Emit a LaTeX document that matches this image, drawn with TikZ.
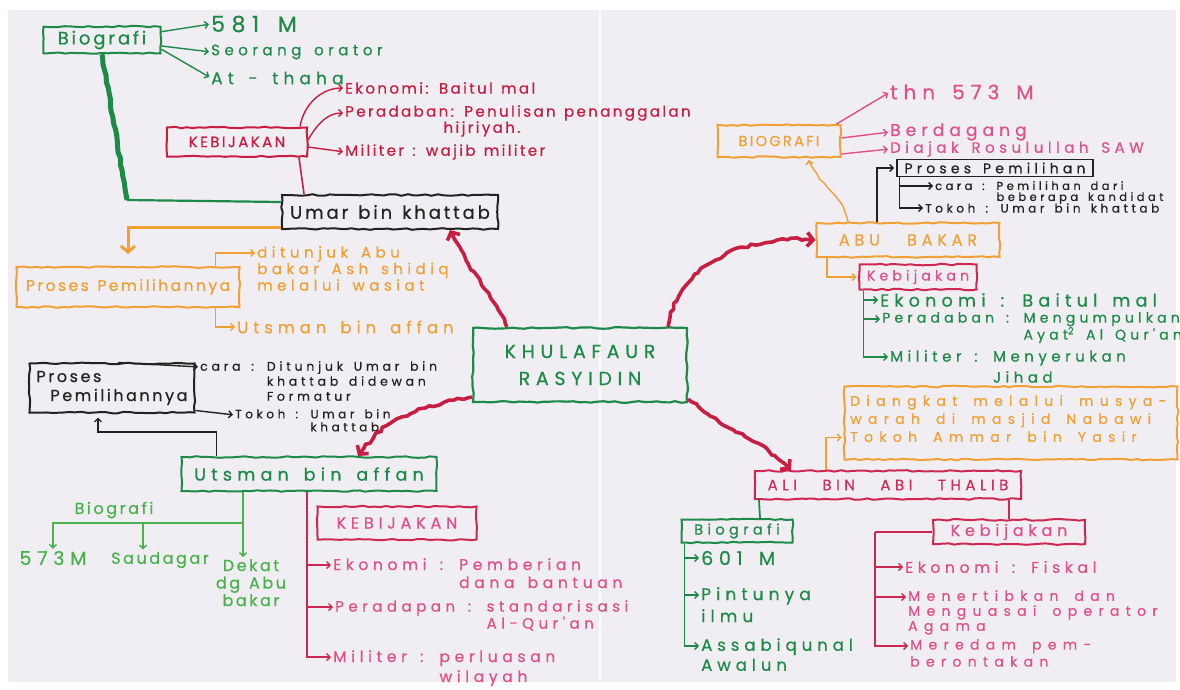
\documentclass[tikz,border=0pt]{standalone}
\usepackage{fontspec}
\setmainfont{Poppins}[LetterSpace=16, WordSpace=1.3, FakeBold=0.6]
\newfontfamily\wide{Poppins}[LetterSpace=30, WordSpace=1.5, FakeBold=0.6]
\newfontfamily\xwide{Poppins}[LetterSpace=45, WordSpace=1.6, FakeBold=0.6]
\usetikzlibrary{arrows.meta,decorations.pathmorphing}
\definecolor{grn}{HTML}{1E8A4A}
\definecolor{lgrn}{HTML}{49B24E}
\definecolor{crim}{HTML}{C81E44}
\definecolor{pnk}{HTML}{E0508A}
\definecolor{orng}{HTML}{F0A035}
\definecolor{ink}{HTML}{222222}
\definecolor{paper}{HTML}{F1EEF3}

\begin{document}
\begin{tikzpicture}[x=1pt,y=-1pt]
\pgfmathsetseed{7}
\tikzstyle{every node}+=[inner sep=0pt, font=\fontsize{15}{17}\selectfont]
\tikzstyle{hand}=[decorate, decoration={random steps, segment length=6pt, amplitude=0.8pt, pre length=4pt, post length=4pt}]
\tikzstyle{bx}=[draw, hand, line width=2pt, inner sep=4pt, align=center]
\tikzstyle{grnbox}=[bx, grn]
\tikzstyle{redbox}=[bx, crim]
\tikzstyle{pnkbox}=[bx, draw=crim!80!pnk, text=pnk]
\tikzstyle{orgbox}=[bx, orng]
\tikzstyle{blkbox}=[bx, ink]
\tikzstyle{gtxt}=[text=grn]
\tikzstyle{lgtxt}=[text=lgrn]
\tikzstyle{rtxt}=[text=crim]
\tikzstyle{ptxt}=[text=pnk]
\tikzstyle{otxt}=[text=orng]
\tikzstyle{ktxt}=[text=ink]
\tikzstyle{tip}=[line width=1.4pt, -{Straight Barb[length=3.5pt,width=7pt]}, shorten >=2pt]
\tikzstyle{redlink}=[crim, line width=3.6pt, hand, decoration={amplitude=1.6pt, segment length=5pt, post length=10pt}, -{Straight Barb[length=6pt,width=14pt]}]
\fill[white] (0,0) rectangle (1180,690);
\fill[paper] (8,10) rectangle (1176,682);
\draw[white!80!paper, line width=2pt] (600,10) -- (600,682);
\useasboundingbox (0,0) rectangle (1180,690);

\node[grnbox, minimum width=214, minimum height=74, line width=2.2pt, font=\wide\fontsize{19}{27}\selectfont] (khul) at (580,365) {KHULAFAUR\\RASYIDIN};
\node[blkbox, minimum width=216, minimum height=34, font=\fontsize{18}{20}\selectfont] (umar) at (390,212) {Umar bin khattab};
\node[orgbox, minimum width=183, minimum height=34, font=\wide\fontsize{16}{18}\selectfont] (abu) at (908,240) {ABU \ BAKAR};
\node[grnbox, minimum width=255, minimum height=34, font=\wide\fontsize{17.5}{20}\selectfont] (utsM) at (309,474) {Utsman bin affan};
\node[pnkbox, minimum width=266, minimum height=28, text=crim!70!pnk, font=\wide\fontsize{15}{17}\selectfont] (ali) at (888,485) {ALI \ BIN \ ABI \ THALIB};

\node[grnbox, minimum width=117, minimum height=26, font=\fontsize{18}{20}\selectfont] (bioU) at (102,40) {Biografi};
\node[gtxt, anchor=west, font=\wide\fontsize{22}{24}\selectfont] (u581) at (211,24) {581 M};
\node[gtxt, anchor=west, font=\wide\fontsize{15}{17}\selectfont] (uOra) at (211,52) {Seorang orator};
\node[gtxt, anchor=west, font=\wide\fontsize{17}{19}\selectfont] (uAth) at (211,78) {At - thaha};
\draw[tip, grn] ([yshift=-6pt]bioU.north east) -- (u581.west);
\draw[tip, grn] ([yshift=-6pt]bioU.east) -- (uOra.west);
\draw[tip, grn] ([yshift=5pt]bioU.south east) -- (uAth.west);
\coordinate (bend1) at (127,200);
\draw[grn, line width=5pt, hand] (bioU.south) -- (bend1);
\draw[grn, line width=2.2pt] (bend1) -- ([yshift=-8pt]umar.north west);

\node[redbox, minimum width=140, minimum height=29, font=\fontsize{15}{17}\selectfont] (kebU) at (237,142) {KEBIJAKAN};
\node[rtxt, anchor=west] (ekoU) at (345,88) {Ekonomi: Baitul mal};
\node[rtxt, anchor=west, font=\fontsize{15}{17}\selectfont] (perU) at (345,113) {Peradaban: Penulisan penanggalan};
\node[rtxt] (hijU) at (482,129) {hijriyah.};
\node[rtxt, anchor=west] (milU) at (345,152) {Militer : wajib militer};
\draw[tip, crim] ([xshift=-8pt]kebU.north east) to[out=80,in=180] (ekoU.west);
\draw[tip, crim] ([yshift=2pt]kebU.east) to[out=60,in=180] (perU.west);
\draw[tip, crim] ([yshift=-5pt]kebU.east) -- (milU.west);
\draw[crim, line width=1.6pt] ([xshift=-9pt]kebU.south east) -- ([xshift=23pt]umar.north west);

\node[orgbox, minimum width=223, minimum height=40, text=orng, font=\fontsize{15.5}{17}\selectfont] (procU) at (128,287) {Proses Pemilihannya};
\node[otxt, anchor=north west, align=left, font=\wide\fontsize{15}{16.5}\selectfont] (ditU) at (257,246) {ditunjuk Abu\\bakar Ash shidiq\\melalui wasiat};
\node[otxt, anchor=west, font=\wide\fontsize{16.5}{19}\selectfont] (utsU) at (237,327) {Utsman bin affan};
\draw[orng, line width=3pt, shorten >=12pt, -{Straight Barb[length=6pt,width=14pt]}] ([yshift=3pt]umar.south west) -| (procU.north);
\draw[tip, orng] ([xshift=-25pt]procU.north east) |- ([yshift=-7pt]ditU.north west);
\draw[tip, orng] ([xshift=-25pt]procU.south east) |- (utsU.west);

\node[blkbox, align=left, minimum width=165, minimum height=49, font=\fontsize{16}{19}\selectfont] (procK) at (112,388) {Proses\\\hspace*{14pt}Pemilihannya};
\node[ktxt, anchor=north west, align=left, font=\wide\fontsize{12.5}{15}\selectfont] (caraK) at (200,361) {cara : Ditunjuk Umar bin\\\phantom{cara : }khattab didewan\\\phantom{cara : }Formatur};
\node[ktxt, anchor=north west, align=left, font=\wide\fontsize{12}{13}\selectfont] (tokK) at (235,409) {Tokoh : Umar bin\\\phantom{Tokoh : }khattab};
\draw[tip, ink] ([xshift=6pt]procK.north) -- ([yshift=-6pt]caraK.north west);
\draw[tip, ink] ([yshift=3pt]procK.south east) -- ([yshift=-6pt]tokK.north west);
\draw[tip, ink, shorten >=4pt] ([xshift=36pt]utsM.north west) -- ++(0,-24) -| ([xshift=-14pt]procK.south);

\coordinate (ubj) at (243,523);
\node[lgtxt, font=\fontsize{16}{18}\selectfont] (ubio) at (114,510) {Biografi};
\node[lgtxt, font=\wide\fontsize{19}{21}\selectfont] (u573) at (53,558) {573M};
\node[lgtxt, font=\fontsize{16}{18}\selectfont] (usdg) at (160,560) {Saudagar};
\node[lgtxt, anchor=north, align=center, font=\fontsize{16}{17.5}\selectfont] (udkt) at (251,559) {Dekat\\dg Abu\\bakar};
\draw[tip, lgrn] ([xshift=-66pt]utsM.south) -- ([xshift=-66pt]utsM.south |- udkt.north);
\draw[tip, lgrn] (ubj) -| (u573.north);
\draw[tip, lgrn] ([xshift=-17pt]usdg.north |- ubj) -- ([xshift=-17pt]usdg.north);

\node[pnkbox, minimum width=159, minimum height=33, font=\wide\fontsize{16}{18}\selectfont] (kebM) at (397,523) {KEBIJAKAN};
\node[ptxt, anchor=north west, align=left, font=\wide\fontsize{15.5}{18}\selectfont] (ekoM) at (333,558) {Ekonomi : Pemberian\\\phantom{Ekonomi : }dana bantuan};
\node[ptxt, anchor=north west, align=left, font=\wide\fontsize{15}{17}\selectfont] (perM) at (335,600) {Peradapan : standarisasi\\\phantom{Peradapan : }Al-Qur'an};
\node[ptxt, anchor=north west, align=left, font=\wide\fontsize{15.5}{20}\selectfont] (milM) at (333,650) {Militer : perluasan\\\phantom{Militer : }wilayah};
\draw[tip, crim!80!pnk] ([xshift=-2pt]utsM.south) |- ([yshift=-7pt]ekoM.north west);
\draw[tip, crim!80!pnk] ([xshift=-2pt]utsM.south) |- ([yshift=-7pt]perM.north west);
\draw[tip, crim!80!pnk] ([xshift=-2pt]utsM.south) |- ([yshift=-7pt]milM.north west);

\draw[redlink] ([xshift=35pt]khul.north west) to[out=115,in=-65] ([xshift=60pt]umar.south);
\draw[redlink] ([xshift=-20pt]khul.north east) to[out=80,in=175] (abu.west);
\draw[redlink] ([yshift=6pt]khul.south west) to[out=190,in=55] ([xshift=49pt]utsM.north);
\draw[redlink] ([yshift=4pt]khul.south east) to[out=-40,in=135] ([xshift=37pt]ali.north west);

\node[orgbox, minimum width=123, minimum height=32, font=\fontsize{14.5}{16}\selectfont] (bioA) at (779,141) {BIOGRAFI};
\node[ptxt, anchor=west, font=\wide\fontsize{20}{22}\selectfont] (aThn) at (890,92) {thn 573 M};
\node[ptxt, anchor=west, font=\wide\fontsize{17}{19}\selectfont] (aDag) at (890,132) {Berdagang};
\node[ptxt, anchor=west, font=\wide\fontsize{15}{17}\selectfont] (aAjk) at (890,149) {Diajak Rosulullah SAW};
\draw[tip, pnk] ([xshift=-5pt]bioA.north east) -- (aThn.west);
\draw[tip, pnk] ([yshift=3pt]bioA.east) -- (aDag.west);
\draw[tip, pnk] ([yshift=4pt]bioA.south east) -- (aAjk.west);
\draw[tip, orng, hand] ([xshift=-60pt]abu.north) to[out=100,in=-70] ([xshift=29pt]bioA.south);

\node[draw=ink, line width=1.6pt, minimum width=196, minimum height=17, text=ink, font=\wide\fontsize{14}{16}\selectfont] (ppA) at (995,168) {Proses Pemilihan};
\node[ktxt, anchor=north west, align=left, font=\wide\fontsize{11.5}{11}\selectfont] (caraA) at (935,181) {cara : Pemilihan dari\\\phantom{cara : }beberapa kandidat};
\node[ktxt, anchor=west, font=\wide\fontsize{12}{14}\selectfont] (tokA) at (925,208) {Tokoh : Umar bin khattab};
\draw[tip, ink] ([xshift=-31pt]abu.north) |- (ppA.west);
\draw[tip, ink] ([xshift=3pt]ppA.south west) |- ([yshift=-5pt]caraA.north west);
\draw[tip, ink] ([xshift=3pt]ppA.south west) |- (tokA.west);

\node[pnkbox, minimum width=117, minimum height=25, font=\wide\fontsize{14}{16}\selectfont] (kebA) at (918,277) {Kebijakan};
\node[gtxt, anchor=west, font=\wide\fontsize{17.5}{20}\selectfont] (ekoA) at (880,300) {Ekonomi : Baitul mal};
\node[gtxt, anchor=north west, align=left, font=\wide\fontsize{14}{17}\selectfont] (perA) at (882,312) {Peradaban : Mengumpulkan\\\phantom{Peradaban : }Ayat\textsuperscript{2} Al Qur'an};
\node[gtxt, anchor=north west, align=left, font=\wide\fontsize{15}{21}\selectfont] (milA) at (890,350) {Militer : Menyerukan\\\phantom{Militer : }Jihad};
\draw[tip, orng] ([xshift=-81pt]abu.south) |- (kebA.west);
\draw[tip, grn] ([xshift=5pt]kebA.south west) |- (ekoA.west);
\draw[tip, grn] ([xshift=5pt]kebA.south west) |- ([yshift=-7pt]perA.north west);
\draw[tip, grn] ([xshift=5pt]kebA.south west) |- ([yshift=-7pt]milA.north west);

\node[orgbox, minimum width=333, minimum height=73, inner sep=0pt] (musA) at (1011,423) {};
\node[otxt, anchor=north west, align=left, font=\xwide\fontsize{14}{18}\selectfont] (musT) at (850,395) {Diangkat melalui musya-\\warah di masjid Nabawi\\Tokoh Ammar bin Yasir};
\draw[tip, orng] ([xshift=72pt]ali.north west) |- ([yshift=23pt]musA.south west);

\node[grnbox, minimum width=111, minimum height=23, font=\wide\fontsize{14.5}{16}\selectfont] (bioL) at (737,531) {Biografi};
\node[gtxt, anchor=west, font=\wide\fontsize{19}{21}\selectfont] (l601) at (701,558) {601 M};
\node[gtxt, anchor=north west, align=left, font=\wide\fontsize{17}{22}\selectfont] (lPin) at (701,587) {Pintunya\\ilmu};
\node[gtxt, anchor=north west, align=left, font=\wide\fontsize{16.5}{20}\selectfont] (lAss) at (701,638) {Assabiqunal\\Awalun};
\draw[grn, line width=1.8pt] ([xshift=5pt]ali.south west) -- ([xshift=23pt]bioL.north);
\draw[tip, grn] ([xshift=4pt]bioL.south west) |- (l601.west);
\draw[tip, grn] ([xshift=4pt]bioL.south west) |- ([yshift=-8pt]lPin.north west);
\draw[tip, grn] ([xshift=4pt]bioL.south west) |- ([yshift=-8pt]lAss.north west);

\node[pnkbox, minimum width=152, minimum height=22, font=\wide\fontsize{16}{18}\selectfont] (kebL) at (1009,532) {Kebijakan};
\coordinate (lk) at (875,532);
\node[ptxt, anchor=west, font=\wide\fontsize{15.5}{18}\selectfont] (lEko) at (905,567) {Ekonomi : Fiskal};
\node[ptxt, anchor=north west, align=left, font=\xwide\fontsize{14}{15}\selectfont] (lMen) at (908,590) {Menertibkan dan\\Menguasai operator\\Agama};
\node[ptxt, anchor=north west, align=left, font=\xwide\fontsize{14}{17}\selectfont] (lMer) at (910,639) {Meredam pem-\\berontakan};
\draw[crim!80!pnk, line width=1.6pt] (ali.south -| kebL.north) -- (kebL.north);
\draw[crim!80!pnk, line width=1.6pt] (kebL.west) -- (lk);
\draw[tip, crim!80!pnk] (lk) |- (lEko.west);
\draw[tip, crim!80!pnk] (lk) |- ([yshift=-7pt]lMen.north west);
\draw[tip, crim!80!pnk] (lk) |- ([yshift=-7pt]lMer.north west);
\end{tikzpicture}
\end{document}
